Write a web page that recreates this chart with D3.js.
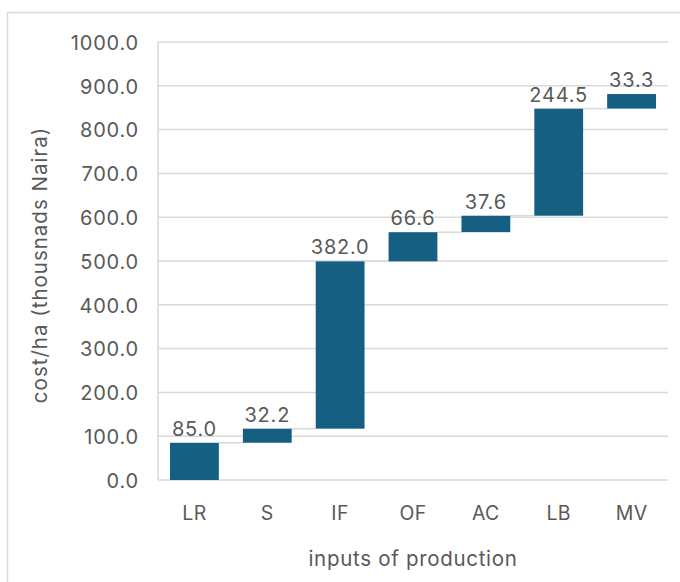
<!DOCTYPE html>
<html>
<head>
<meta charset="utf-8">
<script src="https://cdn.jsdelivr.net/npm/d3@7/dist/d3.min.js"></script>
<style>
  html, body { margin: 0; padding: 0; background: #fff; }
  svg { display: block; font-family: Inter, "Liberation Sans", Arial, sans-serif; }
</style>
</head>
<body>
<svg id="chart" width="680" height="582"></svg>
<script>
// Cost components per hectare (thousands Naira), stacked as a waterfall
const categories = ["LR", "S", "IF", "OF", "AC", "LB", "MV"];
const values = [85.0, 32.2, 382.0, 66.6, 37.6, 244.5, 33.3];
const yTicks = [0, 100, 200, 300, 400, 500, 600, 700, 800, 900, 1000];

const textColor = "#595959";
const gridColor = "#d9d9d9";
const barColor = "#156082";

// running start/end for each step
let running = 0;
const steps = categories.map((c, i) => {
  const start = running;
  running += values[i];
  return { cat: c, value: values[i], start, end: running };
});

const svg = d3.select("#chart");

// outer chart frame
svg.append("rect")
  .attr("x", 7.5).attr("y", 12.5)
  .attr("width", 700).attr("height", 600)
  .attr("fill", "none").attr("stroke", gridColor).attr("stroke-width", 1.5);

const margin = { left: 158, right: 668, top: 42, bottom: 480 };

const x = d3.scaleBand()
  .domain(categories)
  .range([margin.left, margin.right])
  .paddingInner(0.33)
  .paddingOuter(0.165);

const y = d3.scaleLinear().domain([0, 1000]).range([margin.bottom, margin.top]);

// horizontal gridlines
svg.append("g")
  .selectAll("line")
  .data(yTicks)
  .join("line")
  .attr("x1", margin.left).attr("x2", margin.right)
  .attr("y1", d => y(d)).attr("y2", d => y(d))
  .attr("stroke", gridColor).attr("stroke-width", 1.5);

// y axis line
svg.append("line")
  .attr("x1", margin.left).attr("x2", margin.left)
  .attr("y1", y(1000)).attr("y2", y(0))
  .attr("stroke", gridColor).attr("stroke-width", 1.5);

// y tick labels
const yAxis = d3.axisLeft(y).tickValues(yTicks).tickFormat(d3.format(".1f")).tickSize(0).tickPadding(19);
const yg = svg.append("g").attr("transform", `translate(${margin.left},0)`).call(yAxis);
yg.select(".domain").remove();
yg.selectAll("text")
  .attr("fill", textColor)
  .style("font-family", "Inter, sans-serif")
  .style("font-size", "20px")
  .style("letter-spacing", "0.8px")
  .attr("dy", "0.36em");

// x tick labels
const xAxis = d3.axisBottom(x).tickSize(0).tickPadding(26);
const xg = svg.append("g").attr("transform", `translate(0,${margin.bottom})`).call(xAxis);
xg.select(".domain").remove();
xg.selectAll("text")
  .attr("fill", textColor)
  .style("font-family", "Inter, sans-serif")
  .style("font-size", "19.5px")
  .style("letter-spacing", "0.4px");

// connector lines between steps
svg.append("g")
  .selectAll("line")
  .data(steps.slice(0, -1))
  .join("line")
  .attr("x1", (d) => x(d.cat) + x.bandwidth())
  .attr("x2", (d, i) => x(steps[i + 1].cat))
  .attr("y1", d => y(d.end)).attr("y2", d => y(d.end))
  .attr("stroke", gridColor).attr("stroke-width", 1.5);

// bars
svg.append("g")
  .selectAll("rect")
  .data(steps)
  .join("rect")
  .attr("x", d => x(d.cat))
  .attr("width", x.bandwidth())
  .attr("y", d => y(d.end))
  .attr("height", d => y(d.start) - y(d.end))
  .attr("fill", barColor);

// value labels
svg.append("g")
  .selectAll("text")
  .data(steps)
  .join("text")
  .attr("x", d => x(d.cat) + x.bandwidth() / 2)
  .attr("y", d => y(d.end) - 7)
  .attr("text-anchor", "middle")
  .attr("fill", textColor)
  .style("font-size", "20px")
  .style("letter-spacing", "0.8px")
  .text(d => d3.format(".1f")(d.value));

// axis titles
svg.append("text")
  .attr("transform", `translate(47,265) rotate(-90)`)
  .attr("text-anchor", "middle")
  .attr("fill", textColor)
  .style("font-size", "20.5px")
  .style("letter-spacing", "1px")
  .text("cost/ha (thousnads Naira)");

svg.append("text")
  .attr("x", 413).attr("y", 566)
  .attr("text-anchor", "middle")
  .attr("fill", textColor)
  .style("font-size", "20.5px")
  .style("letter-spacing", "0.7px")
  .text("inputs of production");
</script>
</body>
</html>
